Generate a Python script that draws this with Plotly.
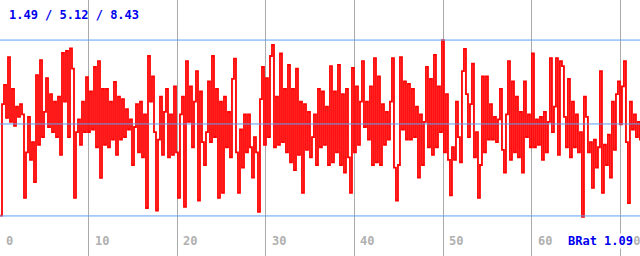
import plotly.graph_objects as go

# --- data ---
seg1 = [1.5, 5.9, 6.66, 5.36, 7.76, 5.2, 6.5, 5.04, 5.8, 5.4, 5.9, 5.5, 2.2, 4.0, 5.4, 3.7,
        4.4, 2.83, 7.05, 4.3, 7.64, 4.6, 5.6, 6.93, 5.0, 6.3, 4.8, 6.0, 4.6, 6.2, 3.9, 7.92,
        6.0, 8.0, 4.6, 8.1, 7.3, 2.2, 4.8, 5.3, 4.3, 6.0, 4.8, 6.97, 4.8, 6.4, 4.9, 7.37,
        4.2, 7.6, 2.99, 6.5, 4.3, 6.5, 4.2, 6.0, 4.5]
seg2 = [6.78, 3.9, 6.2, 4.5, 6.1, 4.6, 5.7, 4.9, 5.3, 3.5, 5.0, 5.9, 4.0, 6.0, 3.8, 5.5,
        1.8, 7.8, 6.0, 7.0, 4.8, 1.7, 4.5, 6.2, 3.9, 5.6, 6.5, 3.8, 5.5, 3.9, 6.6, 4.0,
        2.2, 5.5, 6.2, 1.85, 7.6, 5.2, 6.6, 4.2, 6.0, 7.2, 2.1, 6.4, 4.4, 3.5, 4.8, 6.8,
        4.4, 7.8, 4.6, 6.5, 2.2]
seg3 = [6.0, 2.4, 6.2, 4.2, 5.6, 3.8, 6.9, 7.7, 4.0, 2.4, 4.9, 3.4, 5.5, 4.0, 5.5, 4.2,
        3.0, 4.6, 4.0, 1.65, 6.1, 7.37, 4.3, 6.93, 4.6, 7.8, 8.24, 4.2, 6.2, 4.3, 7.9, 4.4,
        6.5, 4.0, 7.45, 3.6, 6.5, 3.3, 7.3, 3.9, 6.0, 2.4, 5.9, 4.1, 5.6, 3.8, 4.6, 5.5,
        3.5, 6.5, 4.2, 6.4, 4.3, 5.8]
seg4 = [3.5, 7.4, 3.6, 6.4, 4.0, 7.45, 3.5, 6.3, 3.2, 6.5, 3.8, 2.4, 7.33, 4.0, 6.6, 4.3,
        6.0, 7.6, 5.0, 6.0, 4.5, 6.6, 3.5, 7.72, 3.6, 7.0, 3.5, 5.9, 4.3, 5.6, 4.5, 6.0,
        7.72, 3.4, 2.1, 3.5, 7.76, 4.9, 6.8, 4.5, 6.7, 4.5, 6.5, 4.6, 5.8, 3.0, 5.5, 3.5,
        5.2, 7.37, 4.2, 6.9, 3.9]
seg5 = [7.84, 4.2, 6.6, 4.8, 8.43, 4.0, 6.3, 3.7, 2.3, 4.2, 3.7, 6.0, 4.6, 3.6, 7.2, 8.08,
        6.3, 4.6, 5.9, 7.5, 3.8, 4.8, 2.2, 3.5, 7.0, 4.0, 7.0, 4.5, 5.9, 4.5, 5.4, 4.4,
        5.3, 6.5, 4.1, 3.2, 5.5, 7.6, 3.7, 6.8, 4.0, 6.2, 3.8, 5.6, 3.2, 6.8, 4.6, 5.5,
        4.2, 7.9, 4.2, 5.3, 4.3, 5.4]
seg6 = [3.7, 5.6, 4.0, 5.2, 7.72, 4.8, 5.8, 7.72, 3.9, 7.6, 7.4, 5.4, 4.2, 6.9, 3.8, 6.0,
        4.2, 5.5, 4.0, 4.8, 1.45, 6.2, 5.4, 4.0, 4.4, 2.6, 4.5, 3.4, 4.2, 7.2, 2.4, 4.3,
        3.5, 4.7, 3.0, 6.0, 4.1, 6.3, 6.8, 5.1, 6.6, 7.6, 4.4, 2.0, 6.0, 4.9, 5.5, 4.6,
        5.2, 4.5, 5.9, 2.3, 2.35]

values = seg1 + seg2 + seg3 + seg4 + seg5 + seg6
sample_step = 0.2257          # time units between samples
ref_levels = [1.49, 5.12, 8.43]
x_ticks = [0, 10, 20, 30, 40, 50, 60, 70]
tick_labels = ["0", "10", "20", "30", "40", "50", "60", "70"]
header_text = "1.49 / 5.12 / 8.43"
footer_text = "BRat 1.09"

xs = [i * sample_step for i in range(len(values))]

fig = go.Figure()
fig.add_trace(go.Scatter(x=xs, y=values, mode="lines", line=dict(color="#ff0000", width=1.8, shape="hv"),
                         hoverinfo="skip"))

for lv in ref_levels:
    fig.add_shape(type="line", xref="paper", x0=0, x1=1, yref="y", y0=lv, y1=lv,
                  line=dict(color="#5fa0f5", width=1), layer="above")

mono = "DejaVu Sans Mono"
for t, lab in zip(x_ticks, tick_labels):
    fig.add_annotation(x=t, xref="x", y=0.058, yref="paper", text="<b>" + lab + "</b>", showarrow=False,
                       xanchor="left", yanchor="middle", xshift=4,
                       font=dict(family=mono, size=12, color="#b0b0b0"))

fig.add_annotation(x=0.011, xref="paper", y=0.94, yref="paper", text="<b>" + header_text + "</b>",
                   showarrow=False, xanchor="left", yanchor="middle",
                   font=dict(family=mono, size=12, color="#0000ee"))
fig.add_annotation(x=0.99, xref="paper", y=0.058, yref="paper", text="<b>" + footer_text + "</b>",
                   showarrow=False, xanchor="right", yanchor="middle", bgcolor="white", borderpad=0,
                   font=dict(family=mono, size=12, color="#0000ee"))

fig.update_layout(
    width=640, height=256, margin=dict(l=0, r=0, t=0, b=0),
    paper_bgcolor="white", plot_bgcolor="white", showlegend=False,
    xaxis=dict(range=[0, 72.23], tickvals=x_ticks, showticklabels=False, showgrid=True,
               gridcolor="#aaaaaa", gridwidth=1, zeroline=False, showline=False, fixedrange=True),
    yaxis=dict(range=[-0.09, 10.01], showticklabels=False, showgrid=False, zeroline=False,
               showline=False, fixedrange=True),
)
fig.write_html("out.html", config={"displayModeBar": False})
